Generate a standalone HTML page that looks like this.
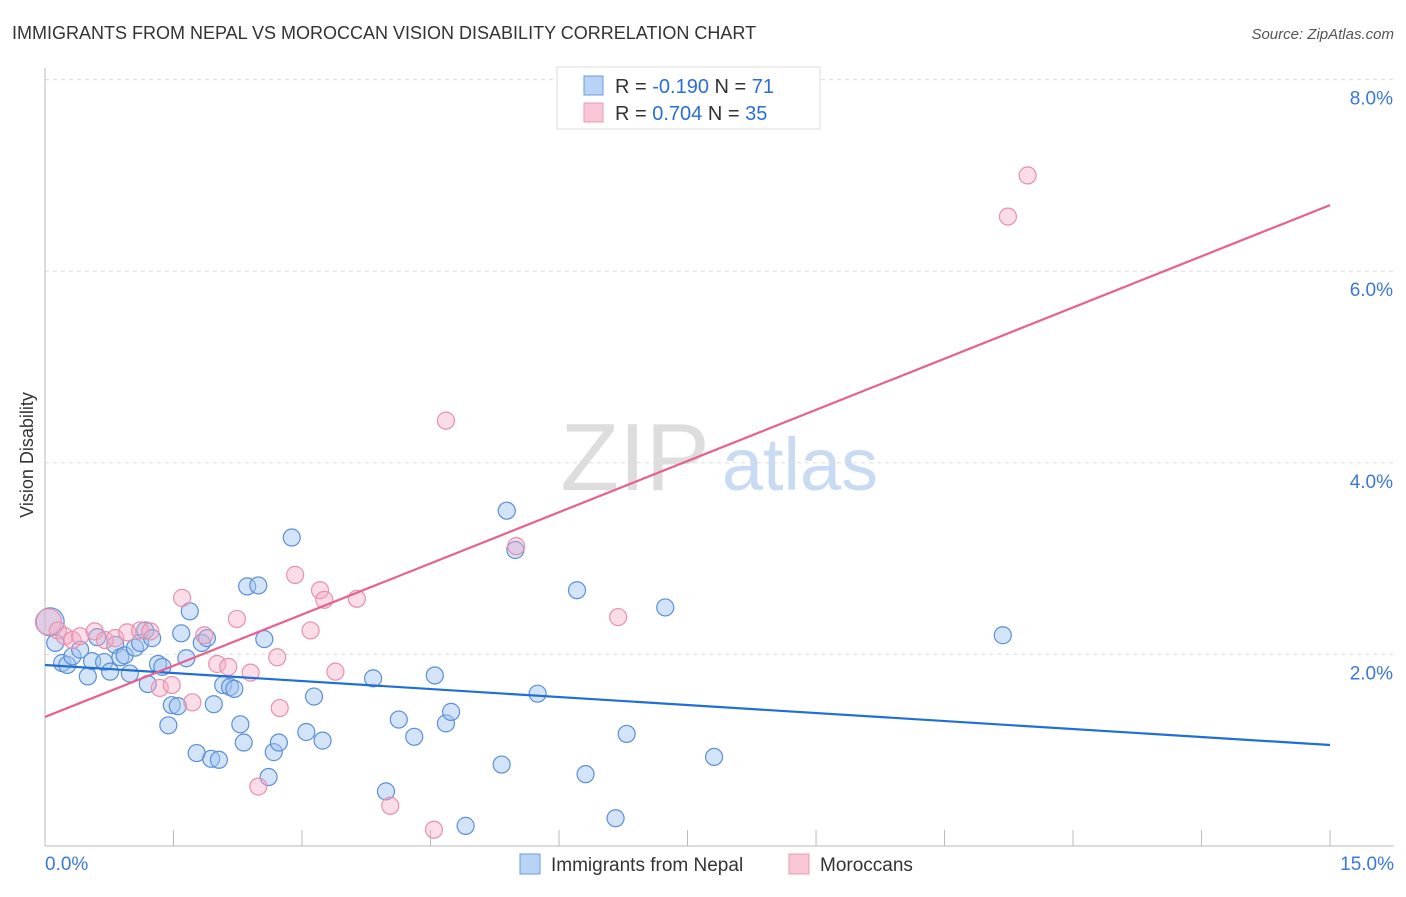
<!DOCTYPE html>
<html><head><meta charset="utf-8"><style>
body{margin:0;background:#fff;font-family:"Liberation Sans",sans-serif;}
svg text{font-family:"Liberation Sans",sans-serif;}
</style></head><body>
<svg id="c" width="1406" height="892" xmlns="http://www.w3.org/2000/svg">
<text x="12" y="39" font-size="18" fill="#333">IMMIGRANTS FROM NEPAL VS MOROCCAN VISION DISABILITY CORRELATION CHART</text>
<text x="1394" y="39" font-size="15" fill="#555" font-style="italic" text-anchor="end">Source: ZipAtlas.com</text>
<text x="33" y="455" font-size="18" fill="#333" text-anchor="middle" transform="rotate(-90 33 455)">Vision Disability</text>
<g><text x="635" y="490" font-size="96" fill="#ddd" font-family="Liberation Serif" text-anchor="middle">ZIP</text><text x="800" y="490" font-size="74" fill="#c9dbf3" text-anchor="middle">atlas</text></g>
<g id="grid"></g><g id="axes"></g><g id="pts"></g><g id="lines"></g>
<g>
<rect x="557" y="67" width="263" height="62" fill="#fff" stroke="#ddd"/>
<rect x="584" y="76" width="19" height="19" fill="#b8d3f5" stroke="#6b9de0"/>
<rect x="584" y="103" width="19" height="19" fill="#f9c6d5" stroke="#e99ab4"/>
<text x="615" y="93" font-size="20" fill="#333">R = <tspan fill="#2a6fd6">-0.190</tspan>   N = <tspan fill="#2a6fd6"> 71</tspan></text>
<text x="615" y="120" font-size="20" fill="#333">R =  <tspan fill="#2a6fd6">0.704</tspan>   N = <tspan fill="#2a6fd6">35</tspan></text>
</g>
<g>
<rect x="520" y="854" width="20" height="20" fill="#b8d3f5" stroke="#6b9de0"/>
<text x="551" y="871" font-size="19" fill="#333">Immigrants from Nepal</text>
<rect x="789" y="854" width="20" height="20" fill="#f9c6d5" stroke="#e99ab4"/>
<text x="820" y="871" font-size="19" fill="#333">Moroccans</text>
</g>
</svg>
<script>
const nepalX=[0.06,0.12,0.20,0.26,0.32,0.41,0.50,0.55,0.61,0.69,0.76,0.82,0.88,0.93,0.99,1.05,1.11,1.17,1.20,1.25,1.32,1.37,1.44,1.48,1.55,1.59,1.65,1.69,1.77,1.83,1.89,1.94,1.97,2.03,2.08,2.16,2.21,2.28,2.32,2.36,2.49,2.56,2.61,2.67,2.73,2.88,3.05,3.14,3.24,3.83,3.98,4.13,4.31,4.55,4.68,4.74,4.91,5.33,5.39,5.49,5.75,6.21,6.31,6.66,6.79,7.24,7.81,11.18];
const nepalY=[2.34,2.12,1.91,1.89,1.98,2.05,1.77,1.93,2.18,1.92,1.82,2.10,1.97,1.99,1.80,2.07,2.12,2.25,1.69,2.17,1.90,1.87,1.26,1.47,1.46,2.22,1.96,2.45,0.97,2.12,2.17,0.91,1.48,0.90,1.68,1.66,1.64,1.27,1.08,2.71,2.72,2.16,0.72,0.98,1.08,3.22,1.19,1.56,1.10,1.75,0.57,1.32,1.14,1.78,1.28,1.40,0.21,0.85,3.50,3.09,1.59,2.67,0.75,0.29,1.17,2.49,0.93,2.20];
const morX=[0.04,0.15,0.23,0.32,0.41,0.58,0.70,0.82,0.96,1.11,1.23,1.34,1.48,1.60,1.72,1.86,2.01,2.14,2.24,2.40,2.49,2.71,2.74,2.92,3.10,3.21,3.26,3.39,3.64,4.03,4.54,4.68,5.50,6.69,11.24,11.47];
const morY=[2.34,2.25,2.19,2.15,2.19,2.24,2.15,2.17,2.23,2.25,2.24,1.65,1.68,2.59,1.50,2.20,1.90,1.87,2.37,1.81,0.62,1.97,1.44,2.83,2.25,2.67,2.57,1.82,2.58,0.42,0.17,4.44,3.13,2.39,6.57,7.00];
const nepalTrend=[1.889,1.054];
const morTrend=[1.347,6.69];
const yTicks=[2,4,6,8];
const xTickLabels=["0.0%","15.0%"];
const X=v=>45+v*85.67, Y=v=>846-v*95.8;
const NS="http://www.w3.org/2000/svg";
function mk(t,p,a){const e=document.createElementNS(NS,t);for(const k in a)e.setAttribute(k,a[k]);p.appendChild(e);return e;}
const grid=document.getElementById('grid'),axes=document.getElementById('axes'),pts=document.getElementById('pts'),lines=document.getElementById('lines');
yTicks.forEach(v=>{const l=mk('line',grid,{x1:45,x2:1394,y1:Y(v),y2:Y(v),stroke:'#ddd','stroke-dasharray':'4,4'});


const t=mk('text',axes,{x:1393,y:Y(v)+25,'font-size':19,fill:'#3a78d8','text-anchor':'end'});t.textContent=v.toFixed(1)+'%';

});
const ax=mk('line',axes,{x1:45,x2:45,y1:68,y2:846,stroke:'#bbb'});


const bx=mk('line',axes,{x1:45,x2:1394,y1:846,y2:846,stroke:'#bbb'});


for(let i=0;i<=10;i++){const tk=mk('line',axes,{x1:X(i*1.5),x2:X(i*1.5),y1:830,y2:846,stroke:'#bbb'});

}
const t0=mk('text',axes,{x:45,y:870,'font-size':19,fill:'#3a78d8'});t0.textContent=xTickLabels[0];


const t1=mk('text',axes,{x:1394,y:870,'font-size':19,fill:'#3a78d8','text-anchor':'end'});t1.textContent=xTickLabels[1];


nepalX.forEach((v,i)=>{const c=mk('circle',pts,{cx:X(v),cy:Y(nepalY[i]),r:i==0?14:8.5,fill:'rgba(160,195,240,0.45)',stroke:'#5b8fd8','stroke-width':1.2});

});
morX.forEach((v,i)=>{const c=mk('circle',pts,{cx:X(v),cy:Y(morY[i]),r:i==0?13:8.5,fill:'rgba(245,170,195,0.4)',stroke:'#e890ad','stroke-width':1.2});

});
const l1=mk('line',lines,{x1:X(0),x2:X(15),y1:Y(nepalTrend[0]),y2:Y(nepalTrend[1]),stroke:'#1f6fd6','stroke-width':2.2});


const l2=mk('line',lines,{x1:X(0),x2:X(15),y1:Y(morTrend[0]),y2:Y(morTrend[1]),stroke:'#e8608e','stroke-width':2.2});


</script>
</body></html>
